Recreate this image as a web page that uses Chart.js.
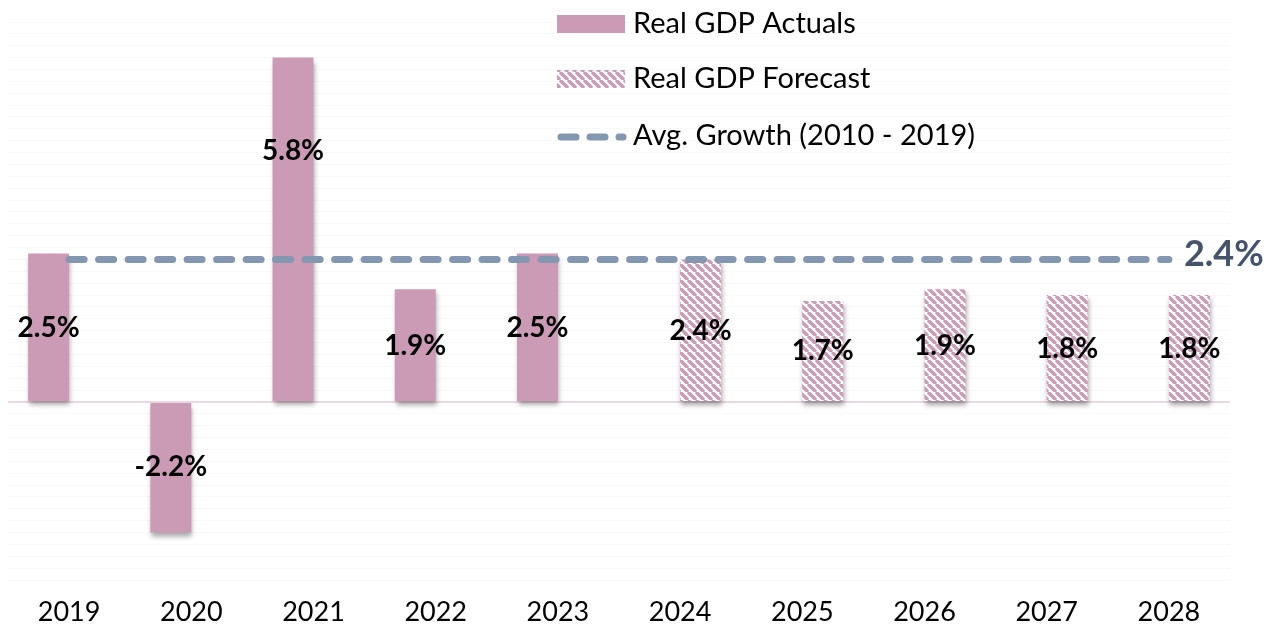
<!DOCTYPE html>
<html>
<head>
<meta charset="utf-8">
<script src="https://cdn.jsdelivr.net/npm/chart.js@4.4.1/dist/chart.umd.min.js"></script>
<style>
  html, body { margin: 0; padding: 0; background: #ffffff; }
  #wrap { width: 1277px; height: 634px; }
</style>
</head>
<body>
<div id="wrap"><canvas id="gdp-chart" width="1277" height="634"></canvas></div>
<script>
// --- DADOS ---
const years = ['2019', '2020', '2021', '2022', '2023', '2024', '2025', '2026', '2027', '2028'];
const actuals = [2.5, -2.2, 5.8, 1.9, 2.5, null, null, null, null, null];
const forecast = [null, null, null, null, null, 2.4, 1.7, 1.9, 1.8, 1.8];
const avgGrowth = [2.4, 2.4, 2.4, 2.4, 2.4, 2.4, 2.4, 2.4, 2.4, 2.4];
const seriesNames = ['Real GDP Actuals', 'Real GDP Forecast', 'Avg. Growth (2010 - 2019)'];
const avgLabel = '2.4%';

const PINK = '#cb9ab4';
const SLATE = '#8497b0';
const FONT = 'Lato, "Open Sans", sans-serif';

// padrão listrado para as barras de previsão
const makeHatch = () => {
    const c = document.createElement('canvas');
    c.width = 8; c.height = 8;
    const g = c.getContext('2d');
    g.fillStyle = '#ffffff';
    g.fillRect(0, 0, 8, 8);
    g.strokeStyle = PINK;
    g.lineWidth = 3.4;
    g.beginPath();
    [-8, 0, 8].forEach(o => { g.moveTo(o, 0); g.lineTo(o + 8, 8); });
    g.stroke();
    return g.createPattern(c, 'repeat');
};
const hatch = makeHatch();

// sombra leve embaixo das barras
const barShadow = {
    id: 'barShadow',
    beforeDatasetDraw(chart, args) {
        if (args.meta.type !== 'bar') return;
        const ctx = chart.ctx;
        ctx.save();
        ctx.shadowColor = 'rgba(0,0,0,0.35)';
        ctx.shadowBlur = 5;
        ctx.shadowOffsetX = 1;
        ctx.shadowOffsetY = 4;
    },
    afterDatasetDraw(chart, args) {
        if (args.meta.type !== 'bar') return;
        chart.ctx.restore();
    }
};

// rótulos de valor, rótulo final da média e legenda
const labelsAndLegend = {
    id: 'labelsAndLegend',
    afterDatasetsDraw(chart) {
        const ctx = chart.ctx;
        const y = chart.scales.y;
        ctx.save();
        ctx.textAlign = 'center';
        ctx.textBaseline = 'middle';
        ctx.fillStyle = '#000';
        ctx.font = 'bold 28px ' + FONT;
        [0, 1].forEach(di => {
            const meta = chart.getDatasetMeta(di);
            chart.data.datasets[di].data.forEach((v, i) => {
                if (v === null) return;
                let mid = v / 2;
                // se o rótulo cair em cima da linha média, sobe ele
                if (Math.abs(mid - avgGrowth[i]) < 0.6) mid = v * 0.73;
                ctx.fillText(v.toFixed(1) + '%', meta.data[i].x, y.getPixelForValue(mid));
            });
        });

        // rótulo no fim da linha
        const lineMeta = chart.getDatasetMeta(2);
        const last = lineMeta.data[lineMeta.data.length - 1];
        ctx.textAlign = 'left';
        ctx.fillStyle = '#44546a';
        ctx.font = 'bold 36px ' + FONT;
        ctx.fillText(avgLabel, last.x + 15, last.y - 5);

        // legenda
        const lx = 557, tx = 633;
        ctx.fillStyle = PINK;
        ctx.fillRect(lx, 15, 68, 18);
        ctx.fillStyle = hatch;
        ctx.fillRect(lx, 70, 68, 18);
        ctx.strokeStyle = SLATE;
        ctx.lineWidth = 7;
        ctx.lineCap = 'round';
        ctx.setLineDash([15, 14]);
        ctx.beginPath();
        ctx.moveTo(lx + 4, 137);
        ctx.lineTo(lx + 66, 137);
        ctx.stroke();
        ctx.setLineDash([]);
        ctx.font = '29px ' + FONT;
        ctx.fillStyle = '#000';
        ctx.fillText(seriesNames[0], tx, 24);
        ctx.fillText(seriesNames[1], tx, 79);
        ctx.fillText(seriesNames[2], tx, 136);
        ctx.restore();
    }
};

const ctx = document.getElementById('gdp-chart').getContext('2d');
new Chart(ctx, {
    data: {
        labels: years,
        datasets: [
            { type: 'bar', label: seriesNames[0], data: actuals, backgroundColor: PINK, order: 2 },
            { type: 'bar', label: seriesNames[1], data: forecast, backgroundColor: hatch, order: 2 },
            {
                type: 'line', label: seriesNames[2], data: avgGrowth, order: 0,
                borderColor: SLATE, borderWidth: 7, borderDash: [15, 14.5],
                borderCapStyle: 'round', pointRadius: 0, fill: false
            }
        ]
    },
    options: {
        responsive: false,
        animation: false,
        devicePixelRatio: 1,
        layout: { padding: { top: 22, left: 8, right: 47, bottom: 0 } },
        datasets: { bar: { barPercentage: 1, categoryPercentage: 0.67 } },
        plugins: { legend: { display: false }, tooltip: { enabled: false } },
        scales: {
            x: {
                grid: { display: false, drawTicks: false },
                border: { display: false },
                ticks: { color: '#000', padding: 16, font: { family: FONT, size: 27 } },
                afterFit: s => { s.height = 54; }
            },
            y: {
                min: -3, max: 6.4,
                border: { display: false },
                ticks: { display: false, stepSize: 0.2, maxTicksLimit: 100 },
                grid: {
                    drawTicks: false,
                    color: c => Math.abs(c.tick.value) < 1e-9 ? '#ecd8e1' : '#f9f9f9',
                    lineWidth: c => Math.abs(c.tick.value) < 1e-9 ? 2 : 1
                }
            }
        }
    },
    plugins: [barShadow, labelsAndLegend]
});
</script>
</body>
</html>
